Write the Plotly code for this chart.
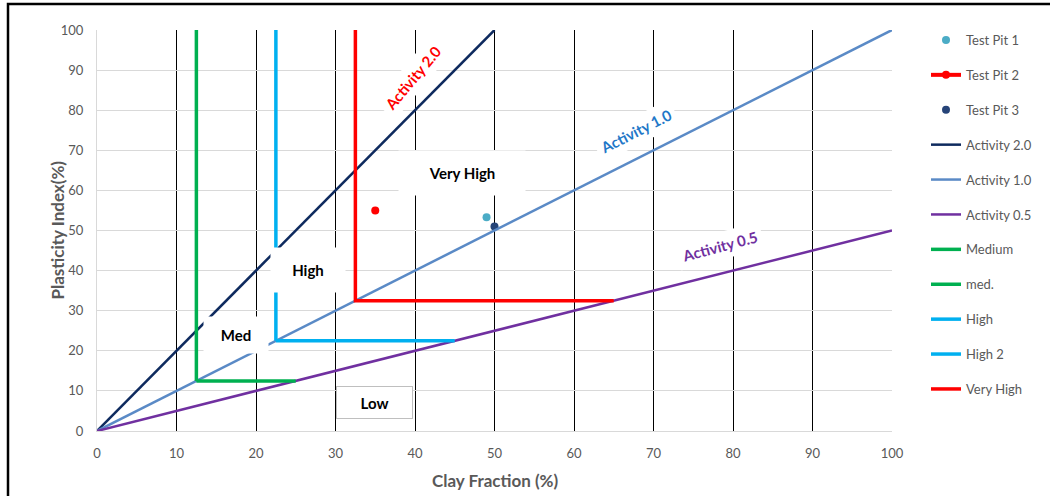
import plotly.graph_objects as go

# ---- data ----
tp1_x = [49]
tp1_y = [53.3]
tp2_x = [35]
tp2_y = [55]
tp3_x = [50]
tp3_y = [51]

act20_x = [0, 50]
act20_y = [0, 100]
act10_x = [0, 100]
act10_y = [0, 100]
act05_x = [0, 100]
act05_y = [0, 50]

medium_x = [12.5, 12.5]
medium_y = [100, 12.5]
med_x = [12.5, 25]
med_y = [12.5, 12.5]
high_x = [22.5, 22.5]
high_y = [100, 22.5]
high2_x = [22.5, 45]
high2_y = [22.5, 22.5]
vhigh_x = [32.5, 32.5, 65]
vhigh_y = [100, 32.5, 32.5]

ticks = [0, 10, 20, 30, 40, 50, 60, 70, 80, 90, 100]

FONT = "Lato"
GRAY = "#595959"

fig = go.Figure()

def add(name, x, y, mode, color, width=None, msize=None):
    kw = dict(x=x, y=y, mode=mode, name=name, legendgroup=name, hoverinfo="skip")
    if "lines" in mode:
        kw["line"] = dict(color=color, width=width)
    if "markers" in mode:
        kw["marker"] = dict(color=color, size=msize)
    fig.add_trace(go.Scatter(**kw))

add("Test Pit 1", tp1_x, tp1_y, "markers", "#4BACC6", msize=8)
add("Test Pit 2", tp2_x, tp2_y, "lines+markers", "#FF0000", width=4, msize=8)
add("Test Pit 3", tp3_x, tp3_y, "markers", "#264478", msize=8)
add("Activity 2.0", act20_x, act20_y, "lines", "#0E2A5E", width=2.5)
add("Activity 1.0", act10_x, act10_y, "lines", "#5A8AC6", width=2.5)
add("Activity 0.5", act05_x, act05_y, "lines", "#7030A0", width=2.5)
add("Medium", medium_x, medium_y, "lines", "#00B050", width=3.5)
add("med.", med_x, med_y, "lines", "#00B050", width=3.5)
add("High", high_x, high_y, "lines", "#00B0F0", width=3.5)
add("High 2", high2_x, high2_y, "lines", "#00B0F0", width=3.5)
add("Very High", vhigh_x, vhigh_y, "lines", "#FF0000", width=3.5)

def label(text, x, y, color="black", size=15, angle=0, w=None, h=None, border=None):
    kw = dict(x=x, y=y, xref="x", yref="y", text="<b>%s</b>" % text, showarrow=False,
              textangle=angle, bgcolor="white",
              font=dict(family=FONT, size=size, color=color))
    if w:
        kw["width"] = w
    if h:
        kw["height"] = h
    if border:
        kw["bordercolor"] = border
        kw["borderwidth"] = 1
    else:
        kw["borderpad"] = 4
    fig.add_annotation(**kw)

label("Activity 2.0", 39.7, 88, color="#FF0000", size=15, angle=-50)
label("Activity 1.0", 67.8, 74.8, color="#1F78C8", size=15, angle=-27)
label("Activity 0.5", 78.4, 46.1, color="#7030A0", size=15, angle=-15)
label("Very High", 45.9, 64.3, size=15, w=118, h=36)
label("High", 26.5, 40.2, size=15, w=66, h=36)
label("Med", 17.5, 23.9, size=15, w=56, h=28)
label("Low", 34.9, 7.2, size=15, w=73, h=29, border="#BFBFBF")

# layout geometry (pixels)
L, T, W_PLOT, H_PLOT = 97, 30, 795, 401
def px_to_paper_x(px):
    return (px - L) / W_PLOT
def px_to_paper_y(py):
    return (T + H_PLOT - py) / H_PLOT

# axis titles as paper annotations
fig.add_annotation(x=px_to_paper_x(57), y=0.5, xref="paper", yref="paper",
                   xanchor="center", yanchor="middle",
                   text="<b>Plasticity Index(%)</b>", showarrow=False, textangle=-90,
                   font=dict(family=FONT, size=17, color=GRAY))
fig.add_annotation(x=px_to_paper_x(495), y=px_to_paper_y(480), xref="paper", yref="paper",
                   xanchor="center", yanchor="middle",
                   text="<b>Clay Fraction (%)</b>", showarrow=False,
                   font=dict(family=FONT, size=17, color=GRAY))

# outer black frame
fig.add_shape(type="rect", xref="paper", yref="paper",
              x0=px_to_paper_x(8), x1=px_to_paper_x(1070),
              y0=px_to_paper_y(520), y1=px_to_paper_y(4),
              line=dict(color="black", width=2.5), layer="above")

fig.update_layout(
    width=1050, height=496,
    margin=dict(l=L, r=1050 - L - W_PLOT, t=T, b=496 - T - H_PLOT),
    plot_bgcolor="white", paper_bgcolor="white",
    font=dict(family=FONT, color=GRAY, size=12),
    showlegend=True,
    legend=dict(x=px_to_paper_x(926), y=px_to_paper_y(25), xanchor="left", yanchor="top",
                font=dict(family=FONT, size=13, color=GRAY),
                tracegroupgap=15, traceorder="grouped", itemwidth=30,
                maxheight=480,
                bgcolor="rgba(0,0,0,0)"),
    xaxis=dict(range=[0, 100], tickvals=ticks, showgrid=True, gridcolor="black", gridwidth=1,
               zeroline=True, zerolinecolor="#D9D9D9", zerolinewidth=1, automargin=False,
               showline=True, linecolor="#D9D9D9", ticks="", ticklabelstandoff=10,
               tickfont=dict(size=13, color=GRAY)),
    yaxis=dict(range=[0, 100], tickvals=ticks, showgrid=True, gridcolor="#D9D9D9", gridwidth=1,
               zeroline=True, zerolinecolor="#D9D9D9", zerolinewidth=1, automargin=False,
               showline=True, linecolor="#D9D9D9", ticks="", ticklabelstandoff=10,
               tickfont=dict(size=13, color=GRAY)),
)

fig.write_html("out.html")
